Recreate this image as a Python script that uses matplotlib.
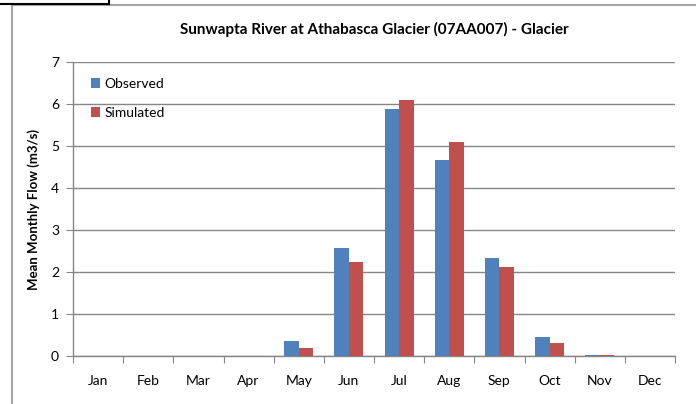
import numpy as np
import matplotlib.pyplot as plt
from matplotlib.lines import Line2D

months = ['Jan', 'Feb', 'Mar', 'Apr', 'May', 'Jun', 'Jul', 'Aug', 'Sep', 'Oct', 'Nov', 'Dec']
observed = [0, 0, 0, 0, 0.36, 2.57, 5.88, 4.67, 2.34, 0.45, 0.02, 0]
simulated = [0, 0, 0, 0, 0.18, 2.23, 6.09, 5.09, 2.11, 0.31, 0.03, 0]

plt.rcParams['font.family'] = ['Lato', 'DejaVu Sans']

fig = plt.figure(figsize=(6.96, 4.04), dpi=100)
ax = fig.add_axes([73 / 696, 48 / 404, 602 / 696, 294 / 404])

x = np.arange(len(months)) + 0.5
w = 0.29
ax.bar(x - w / 2, observed, w, color='#4F81BD', label='Observed', zorder=3)
ax.bar(x + w / 2, simulated, w, color='#C0504D', label='Simulated', zorder=3)

ax.set_xlim(0, 12)
ax.set_ylim(0, 7)
ax.set_yticks(range(8))
ax.set_xticks(range(13))
ax.set_xticklabels([])
ax.set_xticks(x, minor=True)
ax.set_xticklabels(months, minor=True)
ax.tick_params(axis='x', which='minor', length=0, pad=14, labelsize=10)
ax.tick_params(axis='x', which='major', length=5, color='#868686', direction='out')
ax.tick_params(axis='y', length=5, color='#868686', labelsize=10, pad=5)

ax.yaxis.grid(True, color='#868686', linewidth=1, zorder=0)
for s in ['top', 'right']:
    ax.spines[s].set_visible(False)
for s in ['left', 'bottom']:
    ax.spines[s].set_color('#868686')
    ax.spines[s].set_linewidth(1)

ax.set_title('Sunwapta River at Athabasca Glacier (07AA007) - Glacier',
             fontsize=11, fontweight='bold', pad=20)
ax.set_ylabel('Mean Monthly Flow (m3/s)', fontsize=9.5, fontweight='bold', labelpad=8)

ax.legend(loc='upper left', bbox_to_anchor=(0.02, 0.965), frameon=False,
          fontsize=10, handlelength=0.7, handleheight=0.7, handletextpad=0.3,
          labelspacing=1.25, borderaxespad=0.0)

# outer chart frame bits
fig.add_artist(Line2D([11.5 / 696, 11.5 / 696], [0, 1 - 4 / 404], color='#a6a6a6', lw=1.5))
fig.add_artist(Line2D([11.5 / 696, 1], [1 - 4.5 / 404, 1 - 4.5 / 404], color='#a6a6a6', lw=1.5))
fig.add_artist(Line2D([0, 109 / 696], [1 - 4 / 404, 1 - 4 / 404], color='black', lw=1.5))
fig.add_artist(Line2D([109 / 696, 109 / 696], [1 - 4 / 404, 1], color='black', lw=1.5))

fig.savefig('out.png', dpi=100)
